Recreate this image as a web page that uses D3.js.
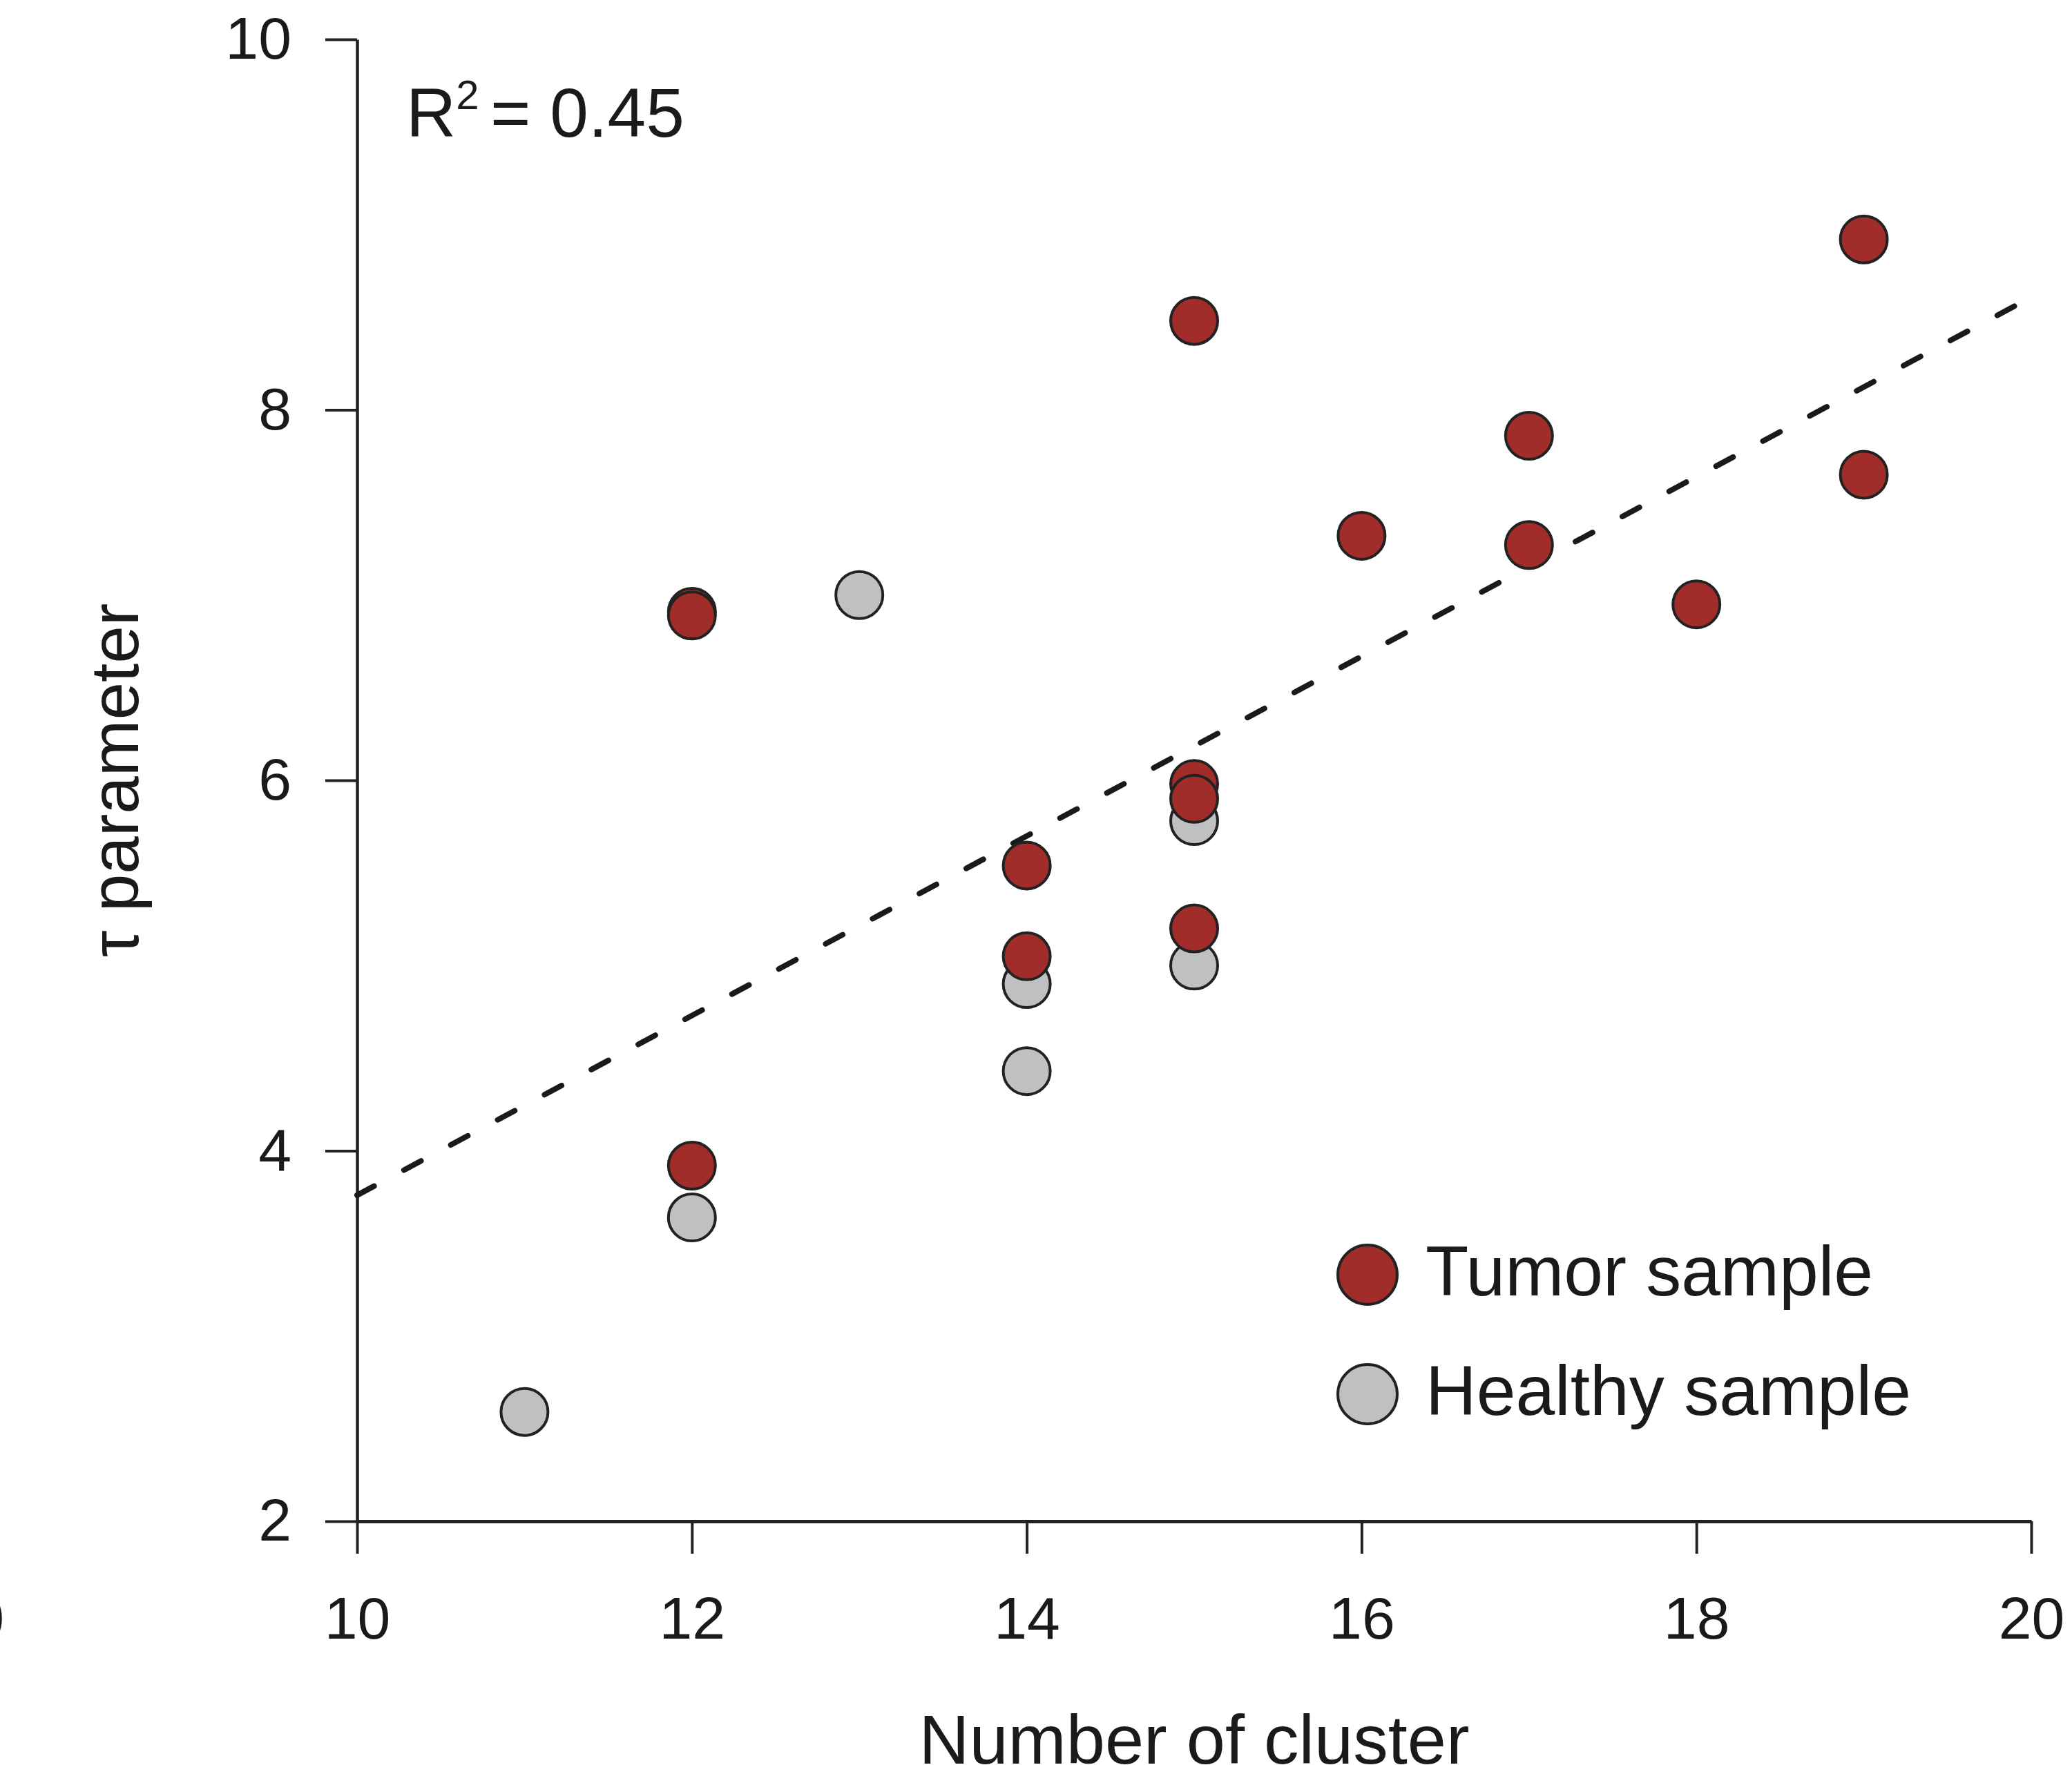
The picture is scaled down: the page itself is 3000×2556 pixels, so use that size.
<!DOCTYPE html>
<html>
<head>
<meta charset="utf-8">
<script src="https://cdn.jsdelivr.net/npm/d3@7"></script>
<style>
  body { margin: 0; background: #fff; }
  text { font-family: "Liberation Sans", Arial, Helvetica, sans-serif; fill: #1a1a1a; }
  .axis path, .axis line { stroke: #222; }
  .axis text { font-size: 86px; fill: #1a1a1a; }
</style>
</head>
<body>
<div id="chart"></div>
<script>
// Tumor sample points (number of clusters, tau)
var tumorX = [12, 12, 12, 14, 14, 15, 15, 15, 15, 16, 17, 17, 18, 19, 19];
var tumorY = [6.91, 6.89, 3.92, 5.54, 5.05, 8.48, 5.98, 5.90, 5.20, 7.32, 7.86, 7.27, 6.95, 8.92, 7.65];

// Healthy sample points
var healthyX = [11, 12, 13, 14, 14, 15, 15];
var healthyY = [2.59, 3.64, 7.00, 4.90, 4.43, 5.78, 5.00];

// Fitted line end points
var fitX = [10, 19.9];
var fitY = [3.76, 8.56];

var xTicks = [10, 12, 14, 16, 18, 20];
var yTicks = [2, 4, 6, 8, 10];

var legendLabels = ["Tumor sample", "Healthy sample"];
var tumorColor = "#a12d2a";
var healthyColor = "#bfc0c2";

var svg = d3
  .select("#chart")
  .append("svg")
  .attr("width", 3000)
  .attr("height", 2556);

var x = d3.scaleLinear().domain([10, 20]).range([517, 2941]);
var y = d3.scaleLinear().domain([2, 10]).range([2203, 57]);

// axes
svg.append("g")
  .attr("class", "axis")
  .attr("transform", "translate(0,2203)")
  .call(d3.axisBottom(x).tickValues(xTicks).tickSize(47).tickSizeOuter(0).tickPadding(62))
  .call(function (g) {
    g.select(".domain").attr("stroke-width", 5);
    g.selectAll(".tick line").attr("stroke-width", 4);
  });

svg.append("g")
  .attr("class", "axis")
  .attr("transform", "translate(517,0)")
  .call(d3.axisLeft(y).tickValues(yTicks).tickSize(46).tickSizeOuter(0).tickPadding(49))
  .call(function (g) {
    g.select(".domain").attr("stroke-width", 4.5);
    g.selectAll(".tick line").attr("stroke-width", 4);
  });

// edge of a label from the neighbouring panel
svg.append("text")
  .attr("x", 6)
  .attr("y", 2373)
  .attr("text-anchor", "end")
  .style("font-size", "86px")
  .text("20");

// axis titles
svg.append("text")
  .attr("x", 1729)
  .attr("y", 2554)
  .attr("text-anchor", "middle")
  .style("font-size", "101px")
  .text("Number of cluster");

svg.append("text")
  .attr("transform", "translate(200,1130) rotate(-90)")
  .attr("text-anchor", "middle")
  .style("font-size", "98px")
  .text("τ parameter");

// R squared note
var r2 = svg.append("text")
  .attr("x", 588)
  .attr("y", 198)
  .style("font-size", "100px");
r2.append("tspan").text("R");
r2.append("tspan").attr("dy", -40).style("font-size", "60px").text("2");
r2.append("tspan").attr("x", 710).attr("dy", 40).text("= 0.45");

// dashed fit line
var fitData = fitX.map(function (d, i) {
  return { x: d, y: fitY[i] };
});
svg.append("path")
  .datum(fitData)
  .attr("fill", "none")
  .attr("stroke", "#1a1a1a")
  .attr("stroke-width", 8)
  .attr("stroke-linecap", "round")
  .attr("stroke-dasharray", "28 49")
  .attr("d", d3.line()
    .x(function (d) { return x(d.x); })
    .y(function (d) { return y(d.y); }));

// points: healthy first, tumor drawn on top
var healthyData = healthyX.map(function (d, i) {
  return { x: d, y: healthyY[i] };
});
var tumorData = tumorX.map(function (d, i) {
  return { x: d, y: tumorY[i] };
});

svg.selectAll(".healthy")
  .data(healthyData)
  .enter()
  .append("circle")
  .attr("class", "healthy")
  .attr("cx", function (d) { return x(d.x); })
  .attr("cy", function (d) { return y(d.y); })
  .attr("r", 34)
  .style("fill", healthyColor)
  .style("stroke", "#222")
  .style("stroke-width", 4);

svg.selectAll(".tumor")
  .data(tumorData)
  .enter()
  .append("circle")
  .attr("class", "tumor")
  .attr("cx", function (d) { return x(d.x); })
  .attr("cy", function (d) { return y(d.y); })
  .attr("r", 34)
  .style("fill", tumorColor)
  .style("stroke", "#222")
  .style("stroke-width", 4);

// legend
var legendColors = [tumorColor, healthyColor];
var legend = svg.selectAll(".legend")
  .data(legendLabels)
  .enter()
  .append("g")
  .attr("class", "legend")
  .attr("transform", function (d, i) {
    return "translate(1980," + (1846 + i * 173) + ")";
  });

legend.append("circle")
  .attr("r", 43)
  .style("fill", function (d, i) { return legendColors[i]; })
  .style("stroke", "#222")
  .style("stroke-width", 4);

legend.append("text")
  .attr("x", 84)
  .attr("y", 30)
  .style("font-size", "102px")
  .text(function (d) { return d; });
</script>
</body>
</html>
